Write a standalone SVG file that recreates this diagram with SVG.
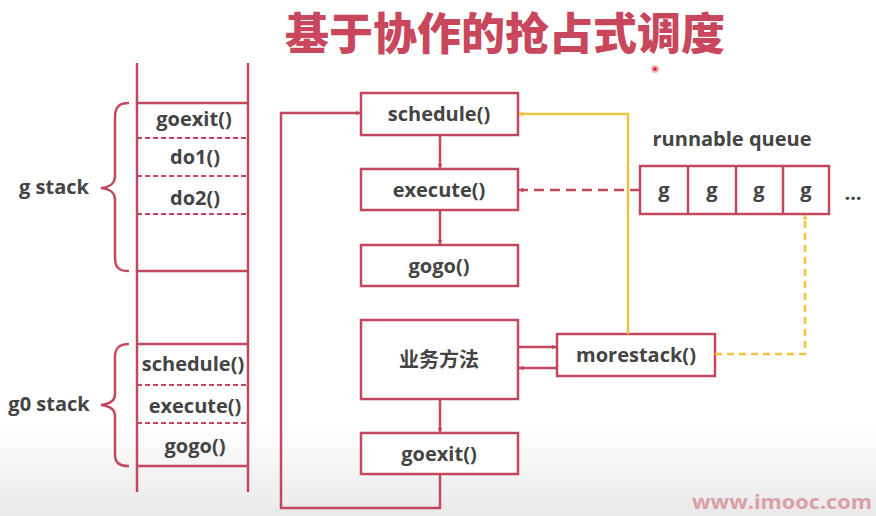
<svg xmlns="http://www.w3.org/2000/svg" width="876" height="516" viewBox="0 0 876 516">
<defs>
<linearGradient id="bg" x1="0" y1="0" x2="0" y2="1">
<stop offset="0" stop-color="#ffffff"/>
<stop offset="0.82" stop-color="#ffffff"/>
<stop offset="1" stop-color="#e9e9e9"/>
</linearGradient>
<marker id="ar" viewBox="0 0 10 10" refX="9" refY="5" markerWidth="5" markerHeight="5" orient="auto" markerUnits="userSpaceOnUse">
<path d="M0,0 L10,5 L0,10 z" fill="#c2485f"/>
</marker>
<marker id="ay" viewBox="0 0 10 10" refX="9" refY="5" markerWidth="5" markerHeight="5" orient="auto" markerUnits="userSpaceOnUse">
<path d="M0,0 L10,5 L0,10 z" fill="#f2c23e"/>
</marker>
<style>
.ln{stroke:#c2485f;stroke-width:2.5;fill:none}
.dl{stroke:#c2485f;stroke-width:2;fill:none;stroke-dasharray:5 3}
.bx{stroke:#c2485f;stroke-width:2.5;fill:#ffffff}
.yl{stroke:#f2c23e;stroke-width:2.5;fill:none}
.yd{stroke:#f2c23e;stroke-width:2.5;fill:none;stroke-dasharray:7 5}
.t{font-family:"Open Sans","Noto Sans CJK SC",sans-serif;font-weight:bold;font-size:20px;fill:#444444;text-anchor:middle;dominant-baseline:central}
.title{font-family:"Noto Sans CJK SC",sans-serif;font-weight:900;font-size:44px;fill:#c8475c;text-anchor:middle}
</style>
</defs>
<rect width="876" height="516" fill="url(#bg)"/>

<text class="title" x="505" y="50">基于协作的抢占式调度</text>
<circle cx="655" cy="69" r="4" fill="#f4b8b8"/>
<circle cx="655" cy="69" r="2" fill="#d33040"/>

<g id="stack">
<line class="ln" x1="137" y1="63" x2="137" y2="492"/>
<line class="ln" x1="248" y1="63" x2="248" y2="492"/>
<line class="ln" x1="137" y1="103" x2="248" y2="103"/>
<line class="dl" x1="137" y1="138" x2="248" y2="138"/>
<line class="dl" x1="137" y1="176" x2="248" y2="176"/>
<line class="dl" x1="137" y1="214" x2="248" y2="214"/>
<line class="ln" x1="137" y1="271" x2="248" y2="271"/>
<line class="ln" x1="137" y1="344" x2="248" y2="344"/>
<line class="dl" x1="137" y1="385" x2="248" y2="385"/>
<line class="dl" x1="137" y1="423" x2="248" y2="423"/>
<line class="ln" x1="137" y1="466" x2="248" y2="466"/>
<text class="t" x="194" y="118">goexit()</text>
<text class="t" x="195" y="156">do1()</text>
<text class="t" x="195" y="197">do2()</text>
<text class="t" x="193" y="363">schedule()</text>
<text class="t" x="195" y="405">execute()</text>
<text class="t" x="195" y="445">gogo()</text>
</g>

<g id="gstack">
<path class="ln" d="M129,103 C118,103 115,108 115,118 L115,176 C115,184 110,187 101,188 C110,189 115,192 115,200 L115,257 C115,267 118,271 129,271"/>
<text class="t" x="54" y="186">g stack</text>
</g>
<g id="g0stack">
<path class="ln" d="M129,344 C118,344 115,349 115,357 L115,394 C115,401 110,404 101,405 C110,406 115,409 115,416 L115,454 C115,462 118,466 129,466"/>
<text class="t" x="49" y="403">g0 stack</text>
</g>

<g id="schedule"><rect class="bx" x="361" y="93" width="157" height="42"/><text class="t" x="439" y="113">schedule()</text></g>
<g id="execute"><rect class="bx" x="361" y="169" width="157" height="41"/><text class="t" x="439" y="189">execute()</text></g>
<g id="gogo"><rect class="bx" x="361" y="245" width="157" height="41"/><text class="t" x="439" y="265">gogo()</text></g>
<g id="business"><rect class="bx" x="361" y="320" width="157" height="79"/><text class="t" x="439" y="359">业务方法</text></g>
<g id="goexit"><rect class="bx" x="361" y="433" width="157" height="41"/><text class="t" x="439" y="453">goexit()</text></g>
<g id="morestack"><rect class="bx" x="557" y="334" width="158" height="42"/><text class="t" x="636" y="354">morestack()</text></g>

<g id="queue">
<text class="t" x="732" y="138">runnable queue</text>
<rect class="bx" x="640" y="166" width="189" height="48"/>
<line class="ln" x1="688" y1="166" x2="688" y2="214"/>
<line class="ln" x1="736" y1="166" x2="736" y2="214"/>
<line class="ln" x1="783" y1="166" x2="783" y2="214"/>
<text class="t" x="664" y="189">g</text>
<text class="t" x="712" y="189">g</text>
<text class="t" x="759" y="189">g</text>
<text class="t" x="806" y="189">g</text>
<text class="t" x="853" y="192">…</text>
</g>

<g id="connectors">
<line class="ln" x1="440" y1="135" x2="440" y2="168" marker-end="url(#ar)"/>
<line class="ln" x1="440" y1="210" x2="440" y2="244" marker-end="url(#ar)"/>
<line class="ln" x1="440" y1="399" x2="440" y2="432" marker-end="url(#ar)"/>
<path class="ln" d="M440,474 L440,508 L281,508 L281,113 L360,113" marker-end="url(#ar)"/>
<line class="ln" x1="518" y1="347" x2="556" y2="347" marker-end="url(#ar)"/>
<line class="ln" x1="557" y1="368" x2="519" y2="368" marker-end="url(#ar)"/>
<path class="yl" d="M628,334 L628,114 L519,114" marker-end="url(#ay)"/>
<line class="ln" x1="640" y1="190" x2="519" y2="190" stroke-dasharray="10 6" marker-end="url(#ar)"/>
<path class="yd" d="M715,354 L805,354 L805,215" marker-end="url(#ay)"/>
</g>

<text x="692" y="509" font-family="'Open Sans',sans-serif" font-weight="bold" font-size="20" fill="#dba0a6" textLength="180" lengthAdjust="spacingAndGlyphs">www.imooc.com</text>
</svg>
